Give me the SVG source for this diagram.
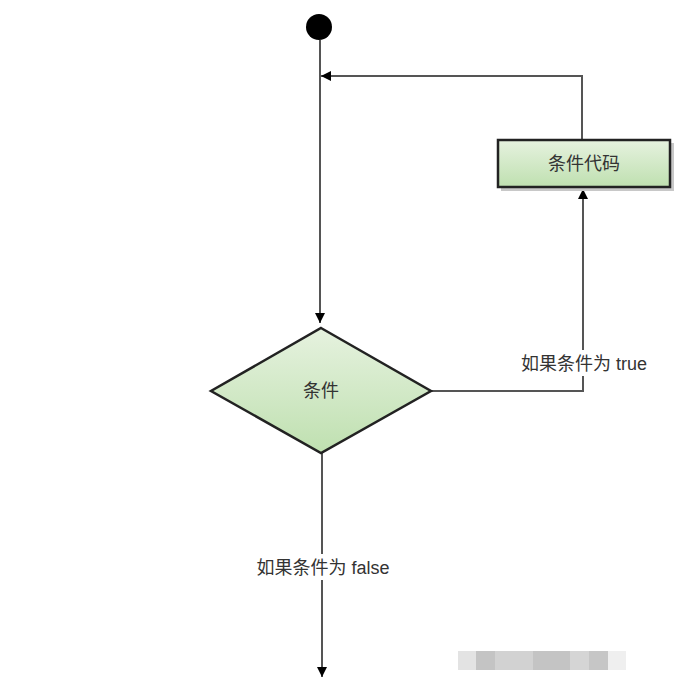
<svg xmlns="http://www.w3.org/2000/svg" width="690" height="698" viewBox="0 0 690 698">
<defs>
<linearGradient id="g" x1="0" y1="0" x2="0" y2="1">
<stop offset="0" stop-color="#e6f2df"/>
<stop offset="1" stop-color="#bfe0b0"/>
</linearGradient>
<marker id="ah" viewBox="0 0 10 10" refX="10" refY="5" markerWidth="10" markerHeight="10" markerUnits="userSpaceOnUse" orient="auto">
<path d="M0,0 L10,5 L0,10 Z" fill="#000"/>
</marker>
<style>
.ln{fill:none;stroke:#555;stroke-width:2}
.txt{font-family:"Liberation Sans","Noto Sans CJK SC",sans-serif;font-size:18px;fill:#333}
.shape{stroke:#222;stroke-width:2.5}
</style>
</defs>
<rect width="690" height="698" fill="#fff"/>
<g id="connectors">
<path class="ln" d="M320,40 L320,323" marker-end="url(#ah)"/>
<path class="ln" d="M582,139 L582,76 L321,76" marker-end="url(#ah)"/>
<path class="ln" d="M431,391 L583,391 L583,189" marker-end="url(#ah)"/>
<path class="ln" d="M322,453 L322,677" marker-end="url(#ah)"/>
<rect x="514" y="350" width="140" height="26" fill="#fff"/>
<text class="txt" x="584" y="370" text-anchor="middle">如果条件为 true</text>
<rect x="252" y="554" width="142" height="26" fill="#fff"/>
<text class="txt" x="323" y="574" text-anchor="middle">如果条件为 false</text>
</g>
<g id="start">
<circle cx="319" cy="27" r="13" fill="#000"/>
</g>
<g id="code">
<rect x="501" y="143" width="173" height="48" fill="#c8c8c8"/>
<rect x="498" y="140" width="172" height="47" fill="url(#g)" class="shape"/>
<text class="txt" x="584" y="170" text-anchor="middle">条件代码</text>
</g>
<g id="cond">
<path d="M321,328 L431,391 L321,453 L211,391 Z" fill="url(#g)" class="shape"/>
<text class="txt" x="321" y="397" text-anchor="middle">条件</text>
</g>
<g id="watermark">
<rect x="458" y="651" width="18" height="19" fill="#e3e3e3"/>
<rect x="476" y="651" width="19" height="19" fill="#c4c4c4"/>
<rect x="495" y="651" width="38" height="19" fill="#d2d2d2"/>
<rect x="533" y="651" width="37" height="19" fill="#c4c4c4"/>
<rect x="570" y="651" width="19" height="19" fill="#d5d5d5"/>
<rect x="589" y="651" width="19" height="19" fill="#c6c6c6"/>
<rect x="608" y="651" width="18" height="19" fill="#efefef"/>
</g>
</svg>
